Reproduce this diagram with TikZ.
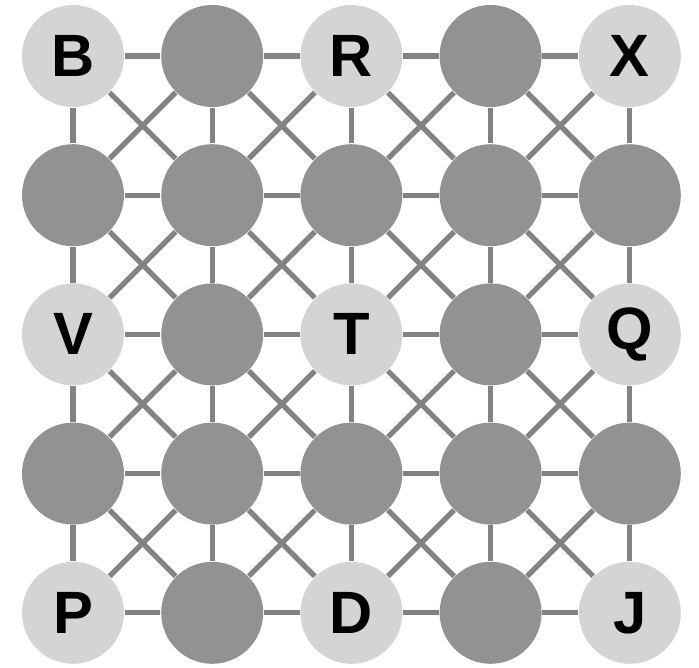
\documentclass[tikz,border=0pt]{standalone}
\usepackage{fontspec}
\setsansfont{Liberation Sans}

\definecolor{linkgray}{HTML}{828282}
\definecolor{darkdisc}{HTML}{929292}
\definecolor{lightdisc}{HTML}{D4D4D4}

\tikzset{
    disc/.style={circle, minimum size=1.02cm, inner sep=0pt},
    darkdot/.style={disc, fill=darkdisc},
    lightdot/.style={disc, fill=lightdisc, font=\sffamily\bfseries\fontsize{17}{17}\selectfont},
    link/.style={draw=linkgray, line width=1.5pt}
}

\begin{document}
\begin{tikzpicture}

% Define spacing of the grid
\def\gap{1.392}

% --- Fix the page size first ---
\useasboundingbox (-0.73,0.56) rectangle (6.26,-6.11);

% --- Dark discs: every place where row or column is odd ---
\foreach \i in {0,...,4}{
    \foreach \j in {0,...,4}{
        \pgfmathtruncatemacro{\odd}{mod(\i,2)+mod(\j,2)}
        \ifnum\odd>0
            \node[darkdot] (n\i\j) at (\i*\gap, -\j*\gap) {};
        \fi
    }
}

% --- Light discs with their letters ---
\foreach \i/\j/\lab in {0/0/B, 2/0/R, 4/0/X, 0/2/V, 2/2/T, 4/2/Q, 0/4/P, 2/4/D, 4/4/J}
    \node[lightdot] (n\i\j) at (\i*\gap, -\j*\gap) {\lab};

% --- Links: rows, columns and both diagonals of every cell ---
\foreach \i in {0,...,3}{
    \pgfmathtruncatemacro{\k}{\i+1}
    \foreach \j in {0,...,4}{
        \draw[link] (n\i\j) -- (n\k\j); % horizontal
        \draw[link] (n\j\i) -- (n\j\k); % vertical
    }
    \foreach \j in {0,...,3}{
        \pgfmathtruncatemacro{\m}{\j+1}
        \draw[link] (n\i\j) -- (n\k\m); % down-right
        \draw[link] (n\k\j) -- (n\i\m); % down-left
    }
}

\end{tikzpicture}
\end{document}
